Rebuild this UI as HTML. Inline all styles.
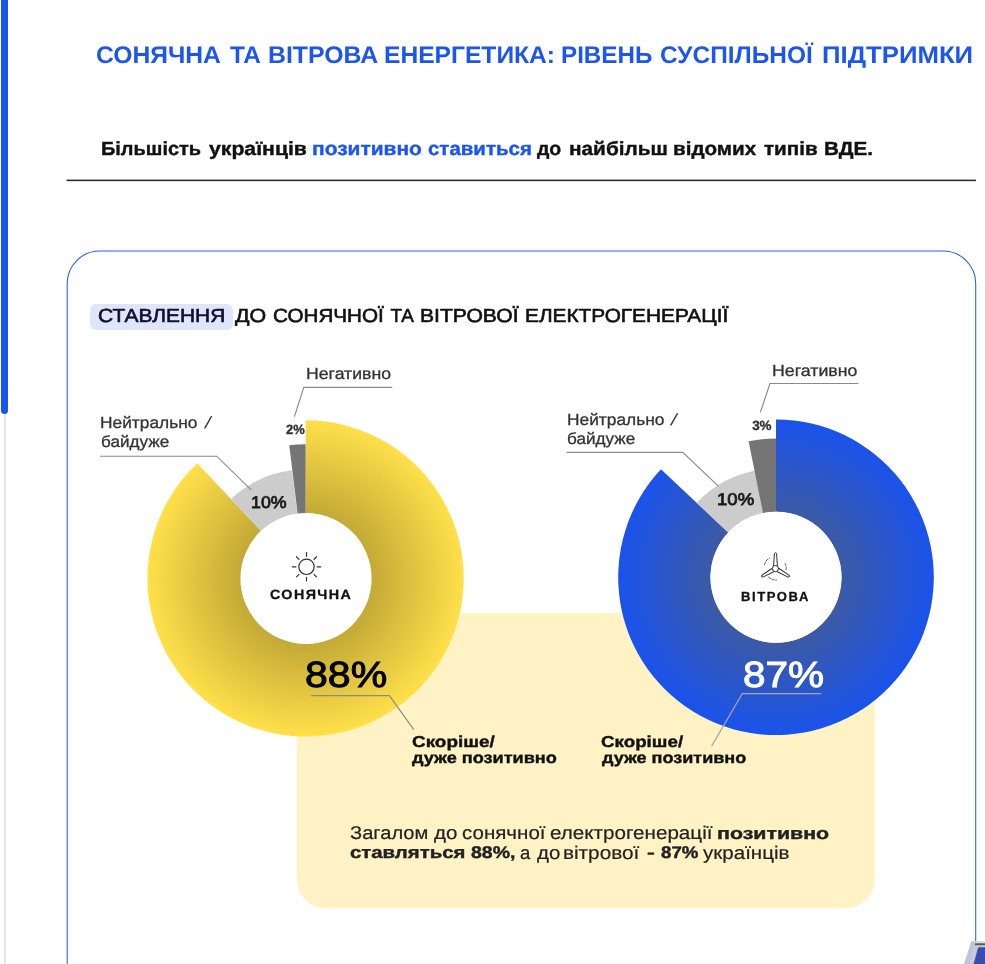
<!DOCTYPE html>
<html lang="uk">
<head>
<meta charset="utf-8">
<title>Сонячна та вітрова енергетика: рівень суспільної підтримки</title>
<style>
html,body{margin:0;padding:0;background:#fff;}
body{width:985px;height:964px;position:relative;overflow:hidden;font-family:'Liberation Sans', sans-serif;}
h1,h2,p{margin:0;padding:0;font-size:inherit;font-weight:inherit;}
.t{position:absolute;transform-origin:0 0;margin:0;padding:0;line-height:1;white-space:nowrap;text-rendering:geometricPrecision;}
.gfx{position:absolute;left:0;top:0;}
.track{position:absolute;left:3.6px;top:0;width:2.4px;height:964px;background:#e6e6e6;}
.thumb{position:absolute;left:1.2px;top:-10px;width:7px;height:423.5px;background:#1a54ee;border-radius:3.5px;}
.hl{position:absolute;left:90px;top:304.1px;width:142.9px;height:26px;background:#dfe6fc;border-radius:6px;}
</style>
</head>
<body>
<div class="track"></div>
<div class="thumb"></div>
<div class="hl"></div>
<svg class="gfx" width="985" height="964" viewBox="0 0 985 964">
<defs>
<radialGradient id="gy" gradientUnits="userSpaceOnUse" cx="305.6" cy="578.4" r="158.1"><stop offset="0.40" stop-color="#c2a836"/><stop offset="1" stop-color="#ffe04a"/></radialGradient>
<radialGradient id="gb" gradientUnits="userSpaceOnUse" cx="776.0" cy="577.3" r="157.8"><stop offset="0.40" stop-color="#3d5aa3"/><stop offset="1" stop-color="#1a53ec"/></radialGradient>
</defs>
<rect x="66.6" y="179.6" width="909.3" height="1.55" fill="#2a2a2a"/>
<rect x="67.2" y="251.0" width="908.5" height="800" rx="32.5" ry="32.5" fill="none" stroke="#2a5ef0" stroke-width="1.05"/>
<rect x="296.7" y="613" width="578.1" height="295.2" rx="29" ry="29" fill="#fff3c5"/>
<path d="M305.60,420.30 A158.1,158.1 0 1 1 197.37,463.15 L261.79,531.75 A64.0,64.0 0 1 0 305.60,514.40 Z" fill="url(#gy)"/>
<path d="M230.98,498.94 A109.0,109.0 0 0 1 291.94,470.26 L297.58,514.90 A64.0,64.0 0 0 0 261.79,531.75 Z" fill="#cccccc"/>
<path d="M289.25,445.20 A134.2,134.2 0 0 1 305.60,444.20 L305.60,514.40 A64.0,64.0 0 0 0 297.80,514.88 Z" fill="#757575"/>
<circle cx="306.0" cy="578.5" r="65.6" fill="#fff"/>
<path d="M776.00,419.50 A157.8,157.8 0 1 1 660.97,469.28 L728.25,532.46 A65.5,65.5 0 1 0 776.00,511.80 Z" fill="url(#gb)"/>
<path d="M696.69,502.82 A108.8,108.8 0 0 1 755.61,470.43 L763.73,512.96 A65.5,65.5 0 0 0 728.25,532.46 Z" fill="#cccccc"/>
<path d="M748.58,441.34 A138.7,138.7 0 0 1 776.00,438.60 L776.00,511.80 A65.5,65.5 0 0 0 763.05,513.09 Z" fill="#757575"/>
<circle cx="776.0" cy="577.3" r="65.5" fill="#fff"/>
<polyline points="392.2,387.4 303.8,387.4 294.4,416.6" fill="none" stroke="#8a8a8a" stroke-width="1.15"/>
<polyline points="100,456.2 216.7,456.2 251.4,490.2" fill="none" stroke="#8a8a8a" stroke-width="1.15"/>
<polyline points="311.1,695.6 389.4,695.6 413.8,729.7" fill="none" stroke="#8a8a8a" stroke-width="1.15"/>
<polyline points="858.3,383.5 770,383.5 760.3,412.4" fill="none" stroke="#8a8a8a" stroke-width="1.15"/>
<polyline points="566.6,452.3 682.8,452.3 718.3,486.1" fill="none" stroke="#8a8a8a" stroke-width="1.15"/>
<polyline points="821.3,693.6 742.3,693.6 711.6,746.1" fill="none" stroke="#a4a6ae" stroke-width="1.2"/>
<g fill="none" stroke="#333" stroke-width="1.2" stroke-linecap="round"><circle cx="306.5" cy="566.8" r="7.7"/><line x1="317.10" y1="566.80" x2="320.70" y2="566.80"/><line x1="314.00" y1="574.30" x2="316.54" y2="576.84"/><line x1="306.50" y1="577.40" x2="306.50" y2="581.00"/><line x1="299.00" y1="574.30" x2="296.46" y2="576.84"/><line x1="295.90" y1="566.80" x2="292.30" y2="566.80"/><line x1="299.00" y1="559.30" x2="296.46" y2="556.76"/><line x1="306.50" y1="556.20" x2="306.50" y2="552.60"/><line x1="314.00" y1="559.30" x2="316.54" y2="556.76"/></g>
<g fill="none" stroke="#333" stroke-width="1" stroke-linejoin="round" stroke-linecap="round"><path transform="rotate(0 775.5 568.6)" d="M773.60,566.00 L774.45,553.40 Q775.50,551.80 776.55,553.40 L777.40,566.00"/><path transform="rotate(120 775.5 568.6)" d="M773.60,566.00 L774.45,553.40 Q775.50,551.80 776.55,553.40 L777.40,566.00"/><path transform="rotate(240 775.5 568.6)" d="M773.60,566.00 L774.45,553.40 Q775.50,551.80 776.55,553.40 L777.40,566.00"/><circle cx="775.5" cy="568.6" r="3.1" fill="#fff"/><path d="M764.5,564.6 Q766.0,559.6 769.5,558.1" stroke-dasharray="2.5 1.5" stroke-width="0.8"/><path d="M785.0,563.6 Q787.0,567.1 786.0,570.1" stroke-dasharray="2.5 1.5" stroke-width="0.8"/><path d="M768.5,577.1 Q772.0,580.1 776.5,580.1" stroke-dasharray="2.5 1.5" stroke-width="0.8"/></g>
<polygon points="971.2,941.2 985,941.2 985,964 964,964" fill="#bfc6d9"/>
<polygon points="975.2,941.2 985,941.2 985,943.3 975.2,943.3" fill="#d9dde6"/>
<polygon points="975,943.3 985,943.3 985,945.4 975,945.4" fill="#5a5c50"/>
<polygon points="974.8,945.4 985,945.4 985,947.2 977.6,947.2 972.4,964 969.6,964" fill="#c9cbd6"/>
<path d="M979.6,947.3 L985,947.3 L985,964 L973.6,964 L977.9,948.6 Q978.3,947.3 979.6,947.3 Z" fill="#3b4ca9"/>
</svg>
<h1>
<span class="t" style="left:95.87px;top:44.20px;color:#1c56ee;font-size:24px;transform:scaleX(1.0280);font-weight:700;">СОНЯЧНА</span>
<span class="t" style="left:229.50px;top:44.20px;color:#1c56ee;font-size:24px;transform:scaleX(1.0169);font-weight:700;">ТА</span>
<span class="t" style="left:267.64px;top:44.20px;color:#1c56ee;font-size:24px;transform:scaleX(1.0350);font-weight:700;">ВІТРОВА</span>
<span class="t" style="left:384.25px;top:44.20px;color:#1c56ee;font-size:24px;transform:scaleX(1.0252);font-weight:700;">ЕНЕРГЕТИКА:</span>
<span class="t" style="left:560.92px;top:44.20px;color:#1c56ee;font-size:24px;transform:scaleX(1.0074);font-weight:700;">РІВЕНЬ</span>
<span class="t" style="left:660.05px;top:44.20px;color:#1c56ee;font-size:24px;transform:scaleX(1.0187);font-weight:700;">СУСПІЛЬНОЇ</span>
<span class="t" style="left:821.78px;top:44.20px;color:#1c56ee;font-size:24px;transform:scaleX(1.0730);font-weight:700;">ПІДТРИМКИ</span>
</h1>
<p>
<span class="t" style="left:100.68px;top:139.75px;color:#111;font-size:19.05px;transform:scaleX(1.0479);font-weight:700;-webkit-text-stroke:0.4px currentColor;">Більшість</span>
<span class="t" style="left:208.66px;top:139.75px;color:#111;font-size:19.05px;transform:scaleX(1.1140);font-weight:700;-webkit-text-stroke:0.4px currentColor;">українців</span>
<span class="t" style="left:312.27px;top:139.75px;color:#1c56ee;font-size:19.05px;transform:scaleX(1.1003);font-weight:700;-webkit-text-stroke:0.4px currentColor;">позитивно</span>
<span class="t" style="left:428.43px;top:139.75px;color:#1c56ee;font-size:19.05px;transform:scaleX(1.0747);font-weight:700;-webkit-text-stroke:0.4px currentColor;">ставиться</span>
<span class="t" style="left:537.20px;top:139.75px;color:#111;font-size:19.05px;transform:scaleX(1.0237);font-weight:700;-webkit-text-stroke:0.4px currentColor;">до</span>
<span class="t" style="left:568.84px;top:139.75px;color:#111;font-size:19.05px;transform:scaleX(1.0924);font-weight:700;-webkit-text-stroke:0.4px currentColor;">найбільш</span>
<span class="t" style="left:672.81px;top:139.75px;color:#111;font-size:19.05px;transform:scaleX(1.0829);font-weight:700;-webkit-text-stroke:0.4px currentColor;">відомих</span>
<span class="t" style="left:764.47px;top:139.75px;color:#111;font-size:19.05px;transform:scaleX(1.0831);font-weight:700;-webkit-text-stroke:0.4px currentColor;">типів</span>
<span class="t" style="left:824.01px;top:139.75px;color:#111;font-size:19.05px;transform:scaleX(1.0860);font-weight:700;-webkit-text-stroke:0.4px currentColor;">ВДЕ.</span>
</p>
<h2>
<span class="t" style="left:97.51px;top:308.45px;color:#0b1030;font-size:18.91px;transform:scaleX(1.1071);-webkit-text-stroke:0.6px currentColor;">СТАВЛЕННЯ</span>
<span class="t" style="left:235.37px;top:308.45px;color:#111;font-size:18.91px;transform:scaleX(1.1339);-webkit-text-stroke:0.6px currentColor;">ДО</span>
<span class="t" style="left:273.21px;top:308.45px;color:#111;font-size:18.91px;transform:scaleX(1.0921);-webkit-text-stroke:0.6px currentColor;">СОНЯЧНОЇ</span>
<span class="t" style="left:390.44px;top:308.45px;color:#111;font-size:18.91px;transform:scaleX(1.0000);-webkit-text-stroke:0.6px currentColor;">ТА</span>
<span class="t" style="left:420.21px;top:308.45px;color:#111;font-size:18.91px;transform:scaleX(1.1163);-webkit-text-stroke:0.6px currentColor;">ВІТРОВОЇ</span>
<span class="t" style="left:524.59px;top:308.45px;color:#111;font-size:18.91px;transform:scaleX(1.1004);-webkit-text-stroke:0.6px currentColor;">ЕЛЕКТРОГЕНЕРАЦІЇ</span>
</h2>
<div class="chart">
<span class="t" style="left:306.06px;top:366.35px;color:#333;font-size:16.15px;transform:scaleX(1.0947);-webkit-text-stroke:0.3px currentColor;">Негативно</span>
<span class="t" style="left:100.38px;top:415.45px;color:#333;font-size:16.15px;transform:scaleX(1.0742);-webkit-text-stroke:0.3px currentColor;">Нейтрально</span>
<span class="t" style="left:207.90px;top:415.45px;color:#333;font-size:16.15px;transform:scaleX(1.0000) skewX(-16deg);-webkit-text-stroke:0.3px currentColor;">/</span>
<span class="t" style="left:100.61px;top:434.25px;color:#333;font-size:16.15px;transform:scaleX(1.0603);-webkit-text-stroke:0.3px currentColor;">байдуже</span>
<span class="t" style="left:285.53px;top:422.75px;color:#333;font-size:13.45px;transform:scaleX(0.9632);font-weight:700;-webkit-text-stroke:0.35px currentColor;">2%</span>
<span class="t" style="left:251.13px;top:493.90px;color:#1a1a1a;font-size:17.02px;transform:scaleX(1.0443);-webkit-text-stroke:0.8px currentColor;">10%</span>
<span class="t" style="left:269.51px;top:588.45px;color:#111;font-size:13.38px;transform:scaleX(1.0702);font-weight:700;letter-spacing:1.300px;-webkit-text-stroke:0.3px currentColor;">СОНЯЧНА</span>
<span class="t" style="left:305.48px;top:657.30px;color:#000;font-size:36.36px;transform:scaleX(1.1282);-webkit-text-stroke:1.0px currentColor;">88%</span>
<span class="t" style="left:411.80px;top:734.65px;color:#111;font-size:15.85px;transform:scaleX(1.1928);font-weight:700;-webkit-text-stroke:0.4px currentColor;">Скоріше/</span>
<span class="t" style="left:412.39px;top:750.95px;color:#111;font-size:15.85px;transform:scaleX(1.1438);font-weight:700;-webkit-text-stroke:0.4px currentColor;">дуже позитивно</span>
</div>
<div class="chart">
<span class="t" style="left:772.26px;top:362.65px;color:#333;font-size:16.15px;transform:scaleX(1.1000);-webkit-text-stroke:0.3px currentColor;">Негативно</span>
<span class="t" style="left:566.68px;top:411.55px;color:#333;font-size:16.15px;transform:scaleX(1.0742);-webkit-text-stroke:0.3px currentColor;">Нейтрально</span>
<span class="t" style="left:674.22px;top:411.55px;color:#333;font-size:16.15px;transform:scaleX(1.0000) skewX(-16deg);-webkit-text-stroke:0.3px currentColor;">/</span>
<span class="t" style="left:567.00px;top:430.55px;color:#333;font-size:16.15px;transform:scaleX(1.0603);-webkit-text-stroke:0.3px currentColor;">байдуже</span>
<span class="t" style="left:752.15px;top:418.65px;color:#333;font-size:13.45px;transform:scaleX(1.0000);font-weight:700;-webkit-text-stroke:0.35px currentColor;">3%</span>
<span class="t" style="left:717.06px;top:490.50px;color:#1a1a1a;font-size:17.02px;transform:scaleX(1.0901);-webkit-text-stroke:0.8px currentColor;">10%</span>
<span class="t" style="left:741.36px;top:590.15px;color:#111;font-size:13.09px;transform:scaleX(0.9985);font-weight:700;letter-spacing:1.567px;-webkit-text-stroke:0.3px currentColor;">ВІТРОВА</span>
<span class="t" style="left:743.39px;top:657.40px;color:#fff;font-size:36.36px;transform:scaleX(1.1141);-webkit-text-stroke:1.0px currentColor;">87%</span>
<span class="t" style="left:601.15px;top:734.65px;color:#111;font-size:15.85px;transform:scaleX(1.1841);font-weight:700;-webkit-text-stroke:0.4px currentColor;">Скоріше/</span>
<span class="t" style="left:601.90px;top:750.95px;color:#111;font-size:15.85px;transform:scaleX(1.1390);font-weight:700;-webkit-text-stroke:0.4px currentColor;">дуже позитивно</span>
</div>
<p>
<span class="t" style="left:349.92px;top:824.15px;color:#222;font-size:18.47px;transform:scaleX(1.0890);-webkit-text-stroke:0.2px currentColor;">Загалом</span>
<span class="t" style="left:433.84px;top:824.15px;color:#222;font-size:18.47px;transform:scaleX(1.1111);-webkit-text-stroke:0.2px currentColor;">до</span>
<span class="t" style="left:461.59px;top:824.15px;color:#222;font-size:18.47px;transform:scaleX(1.1125);-webkit-text-stroke:0.2px currentColor;">сонячної</span>
<span class="t" style="left:550.16px;top:824.15px;color:#222;font-size:18.47px;transform:scaleX(1.1183);-webkit-text-stroke:0.2px currentColor;">електрогенерації</span>
<span class="t" style="left:717.11px;top:826.15px;color:#222;font-size:16.87px;transform:scaleX(1.2678);font-weight:700;-webkit-text-stroke:0.4px currentColor;">позитивно</span>
<span class="t" style="left:350.00px;top:845.45px;color:#222;font-size:16.87px;transform:scaleX(1.2074);font-weight:700;-webkit-text-stroke:0.4px currentColor;">ставляться</span>
<span class="t" style="left:470.53px;top:845.45px;color:#222;font-size:16.87px;transform:scaleX(1.1544);font-weight:700;-webkit-text-stroke:0.4px currentColor;">88%,</span>
<span class="t" style="left:520.33px;top:843.70px;color:#222;font-size:18.47px;transform:scaleX(1.0051);-webkit-text-stroke:0.2px currentColor;">а</span>
<span class="t" style="left:536.77px;top:843.70px;color:#222;font-size:18.47px;transform:scaleX(1.1062);-webkit-text-stroke:0.2px currentColor;">до</span>
<span class="t" style="left:563.45px;top:843.70px;color:#222;font-size:18.47px;transform:scaleX(1.1233);-webkit-text-stroke:0.2px currentColor;">вітрової</span>
<span class="t" style="left:646.59px;top:845.45px;color:#222;font-size:16.87px;transform:scaleX(1.3895);font-weight:700;-webkit-text-stroke:0.4px currentColor;">-</span>
<span class="t" style="left:660.58px;top:845.45px;color:#222;font-size:16.87px;transform:scaleX(1.1098);font-weight:700;-webkit-text-stroke:0.4px currentColor;">87%</span>
<span class="t" style="left:703.39px;top:843.70px;color:#222;font-size:18.47px;transform:scaleX(1.1143);-webkit-text-stroke:0.2px currentColor;">українців</span>
</p>
</body>
</html>
